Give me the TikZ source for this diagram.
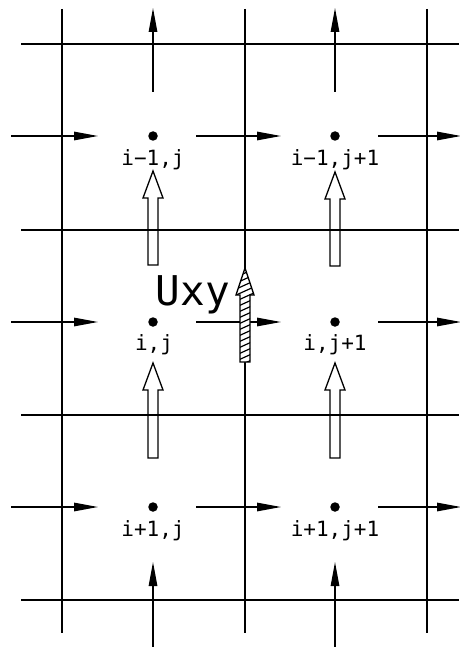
\documentclass[tikz,border=0pt]{standalone}
\usepackage{fontspec}
\setmonofont{DejaVu Sans Mono}
\usetikzlibrary{arrows.meta}
\tikzset{
  gridline/.style={line width=1.8pt, black},
  flux/.style={line width=1.3pt, -{Triangle[length=24pt,width=8.5pt]}},
  celldot/.style={circle, fill=black, inner sep=0pt, minimum size=9.5pt},
  idx/.style={font=\ttfamily\fontsize{21}{21}\selectfont, anchor=base, inner sep=0pt},
  hollow/.style={line width=1.3pt, draw=black},
  hatchline/.style={line width=1.2pt, black}
}
\begin{document}
\begin{tikzpicture}[x=1pt,y=-1pt]
\useasboundingbox (0,0) rectangle (459,647);
% grid
\foreach \gx in {62,245,427} \draw[gridline] (\gx,9) -- (\gx,633);
\foreach \gy in {44,230,415,600} \draw[gridline] (21,\gy) -- (459,\gy);
% horizontal fluxes
\foreach \gy in {136,322,507} {
  \draw[flux] (11,\gy) -- (98,\gy);
  \draw[flux] (196,\gy) -- (281,\gy);
  \draw[flux] (378,\gy) -- (461,\gy);
}
% vertical fluxes top and bottom
\foreach \gx in {153,335} {
  \draw[flux] (\gx,92) -- (\gx,8);
  \draw[flux] (\gx,650) -- (\gx,562);
}
% dots
\node[celldot] (d11) at (153,136) {};
\node[celldot] (d12) at (335,136) {};
\node[celldot] (d21) at (153,322) {};
\node[celldot] (d22) at (335,322) {};
\node[celldot] (d31) at (153,507) {};
\node[celldot] (d32) at (335,507) {};
% labels
\node[idx] (l11) at (153,165) {i−1,j};
\node[idx] (l12) at (335,165) {i−1,j+1};
\node[idx] (l21) at (154,350) {i,j};
\node[idx] (l22) at (335,350) {i,j+1};
\node[idx] (l31) at (153,536) {i+1,j};
\node[idx] (l32) at (335,536) {i+1,j+1};
% hollow arrows
\foreach \cx/\t/\b in {153/171/265, 335/172/266, 153/363/458, 335/363/458} {
  \draw[hollow] (\cx,\t) -- (\cx+10,\t+27) -- (\cx+5,\t+27) -- (\cx+5,\b)
     -- (\cx-5,\b) -- (\cx-5,\t+27) -- (\cx-10,\t+27) -- cycle;
}
% hatched arrow
\fill[white] (245,268) -- (254,295) -- (250,295) -- (250,362)
   -- (240,362) -- (240,295) -- (236,295) -- cycle;
\begin{scope}
  \clip (245,268) -- (254,295) -- (250,295) -- (250,362)
   -- (240,362) -- (240,295) -- (236,295) -- cycle;
  \foreach \hy in {262,268,...,372} \draw[hatchline] (234,\hy+10) -- (256,\hy);
\end{scope}
\draw[hollow] (245,268) -- (254,295) -- (250,295) -- (250,362)
   -- (240,362) -- (240,295) -- (236,295) -- cycle;
% Uxy label
\node[font=\ttfamily\fontsize{41}{41}\selectfont, anchor=base, inner sep=0pt] (uxy) at (193,305) {Uxy};
\end{tikzpicture}
\end{document}
